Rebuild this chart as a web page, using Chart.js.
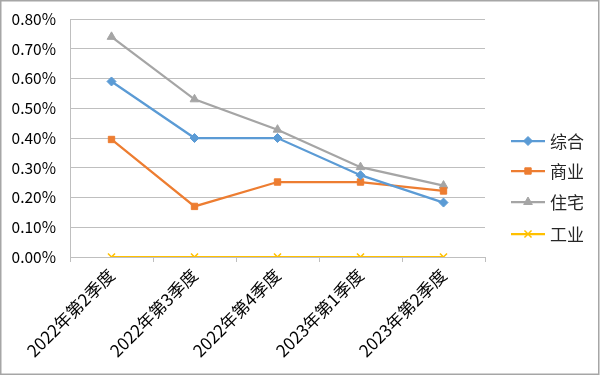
<!DOCTYPE html>
<html><head><meta charset="utf-8">
<script src="https://cdn.jsdelivr.net/npm/chart.js@4/dist/chart.umd.min.js"></script>
<style>html,body{margin:0;padding:0;background:#fff}#w{width:600px;height:375px}</style>
</head><body><div id="w"><canvas id="c" width="600" height="375"></canvas></div>
<script>
const categories = ['2022年第2季度','2022年第3季度','2022年第4季度','2023年第1季度','2023年第2季度'];
const seriesNames = ['综合','商业','住宅','工业'];
const zonghe = [0.59, 0.40, 0.40, 0.275, 0.183];
const shangye = [0.395, 0.17, 0.252, 0.252, 0.222];
const zhuzhai = [0.74, 0.53, 0.428, 0.302, 0.24];
const gongye = [0, 0, 0, 0, 0];
const yTicks = [0,0.1,0.2,0.3,0.4,0.5,0.6,0.7,0.8];

const colors = ['#5B9BD5','#ED7D31','#A5A5A5','#FFC000'];
const styles = ['rectRot','rect','triangle','crossRot'];
const radii = [4.5,4.5,5,5];
const FONT = '"Noto Sans CJK SC", "Noto Sans", sans-serif';

const datasets = [zonghe, shangye, zhuzhai, gongye].map((d,i)=>({
  label: seriesNames[i], data: d, borderColor: colors[i], backgroundColor: colors[i],
  borderWidth: 2.25, pointStyle: styles[i], pointRadius: radii[i], pointBorderWidth: i===3?1.5:1,
  pointBorderColor: colors[i], pointBackgroundColor: colors[i], tension: 0
}));

const frame = {
  id:'frame',
  beforeDraw(chart){
    const ctx=chart.ctx; ctx.save(); ctx.fillStyle='#fff'; ctx.fillRect(0,0,600,375);
    ctx.restore();
  },
  afterDraw(chart){
    const ctx=chart.ctx; ctx.save();
    ctx.strokeStyle='#A6A6A6'; ctx.lineWidth=1.5; ctx.strokeRect(0.75,0.75,598,373.5);
    const ys=[141,171,202,234];
    ctx.font='17px '+FONT; ctx.textBaseline='middle';
    chart.data.datasets.forEach((ds,i)=>{
      const y=ys[i];
      ctx.strokeStyle=ds.borderColor; ctx.lineWidth=2.25;
      ctx.beginPath(); ctx.moveTo(511,y); ctx.lineTo(545,y); ctx.stroke();
      ctx.fillStyle=ds.borderColor; ctx.strokeStyle=ds.borderColor; ctx.lineWidth=ds.pointBorderWidth;
      Chart.helpers.drawPoint(ctx,{pointStyle:ds.pointStyle,radius:ds.pointRadius,rotation:0,borderWidth:ds.pointBorderWidth},528,y);
      ctx.fillStyle='#262626';
      ctx.fillText(ds.label,550,y+1);
    });
    ctx.restore();
  }
};

new Chart(document.getElementById('c'),{
  type:'line',
  data:{labels:categories,datasets},
  plugins:[frame],
  options:{
    responsive:false, animation:false, devicePixelRatio:1,
    layout:{padding:{left:7,top:19,right:115,bottom:0}},
    plugins:{legend:{display:false},tooltip:{enabled:false}},
    scales:{
      x:{
        offset:true,
        grid:{offset:true,drawOnChartArea:false,drawTicks:true,tickLength:5,color:'#BFBFBF',lineWidth:1},
        border:{color:'#BFBFBF',width:1},
        ticks:{maxRotation:45,minRotation:45,autoSkip:false,padding:3,color:'#000',font:{family:FONT,size:17}},
        afterFit(s){s.height=118;s.paddingLeft=0;s.paddingRight=0;}
      },
      y:{
        min:0,max:0.8,
        afterBuildTicks(s){s.ticks=yTicks.map(v=>({value:v}));},
        grid:{color:'#BFBFBF',lineWidth:1,drawTicks:false},
        border:{color:'#BFBFBF',width:1},
        ticks:{padding:14,color:'#000',font:{family:FONT,size:15.5},callback:v=>v.toFixed(2)+'%'},
        afterFit(s){s.width=63;s.paddingTop=0;s.paddingBottom=0;}
      }
    }
  }
});
</script></body></html>
